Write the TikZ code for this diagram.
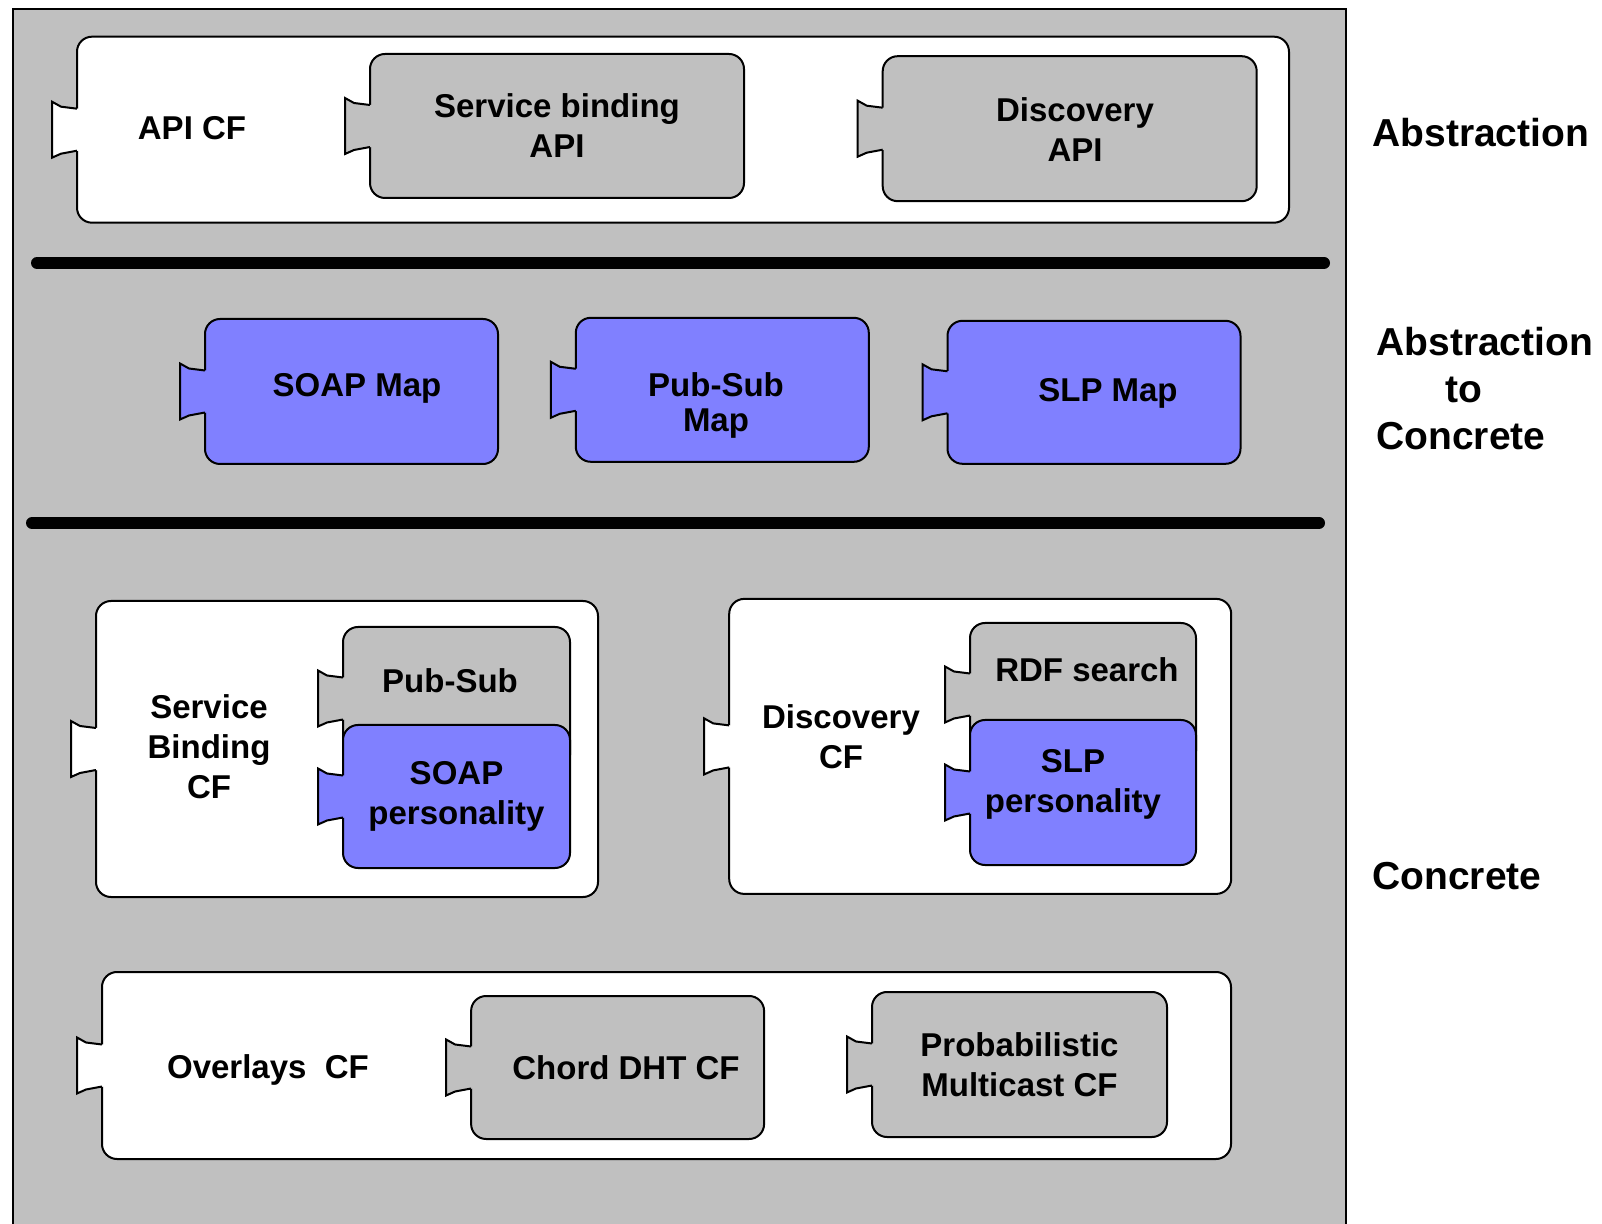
\documentclass[tikz,border=0pt]{standalone}
\usepackage{fontspec}
\setmainfont{Liberation Sans}
\usetikzlibrary{calc}

\definecolor{panel}{HTML}{C0C0C0}
\definecolor{persona}{HTML}{8080FF}
\tikzset{
  edge/.style={draw=black, line width=1pt},
  cf/.style={edge, rounded corners=7.5pt, outer sep=0pt, inner sep=0pt, fill=#1,
    font=\fontsize{16.5}{20}\selectfont\bfseries, align=center},
  cf/.default=white,
  tag/.style={font=\fontsize{16.5}{20}\selectfont\bfseries, align=center, inner sep=0pt},
  layer/.style={font=\fontsize{19.5}{23.5}\selectfont\bfseries, align=left, inner sep=0pt, anchor=west},
  sep/.style={line width=6pt, line cap=round},
}

% plug-in tab on the west side of a component node
\newcommand{\plug}[2]{%
  \fill[#2] ($(#1.west)+(2,-21)$) -- ($(#1.west)+(-16,-23)$) -- ($(#1.west)+(-25,-28)$)
    -- ($(#1.west)+(-25,28)$) -- ($(#1.west)+(-16,24)$) -- ($(#1.west)+(2,21)$) -- cycle;
  \draw[edge] ($(#1.west)+(0,-21)$) -- ($(#1.west)+(-16,-23)$) -- ($(#1.west)+(-25,-28)$)
    -- ($(#1.west)+(-25,28)$) -- ($(#1.west)+(-16,24)$) -- ($(#1.west)+(0,21)$);
}

\begin{document}
\begin{tikzpicture}[x=0.5pt, y=-0.5pt]
  \useasboundingbox (0,0) rectangle (1602,1224);
  % grey backdrop, open at the bottom
  \fill[panel] (12.5,9) rectangle (1346,1224);
  \draw[edge] (12.5,1224) -- (12.5,9) -- (1346,9) -- (1346,1224);

  % abstraction
  \node[cf, minimum width=606pt, minimum height=93pt] (apicf) at (683,129.7) {};
  \plug{apicf}{white}
  \node[tag] (apicf-l) at (192,128) {API CF};
  \node[cf=panel, minimum width=187pt, minimum height=72pt] (sbapi) at (557,126) {Service binding\\API};
  \plug{sbapi}{panel}
  \node[cf=panel, minimum width=187pt, minimum height=72.5pt] (discapi) at (1069.7,128.7) {};
  \plug{discapi}{panel}
  \node[tag] (discapi-l) at (1075,130) {Discovery\\API};

  \draw[sep] (37,263) -- (1324,263);

  % abstraction to concrete
  \node[cf=persona, minimum width=146.5pt, minimum height=72.5pt] (soapmap) at (351.5,391.5) {};
  \plug{soapmap}{persona}
  \node[tag] (soapmap-l) at (357,388) {SOAP Map};
  \node[cf=persona, minimum width=146.5pt, minimum height=72pt] (pubsubmap) at (722.3,389.8) {};
  \plug{pubsubmap}{persona}
  \node[tag, font=\fontsize{16.5}{17.5}\selectfont\bfseries] (pubsubmap-l) at (716,405) {Pub-Sub\\Map};
  \node[cf=persona, minimum width=146.5pt, minimum height=71.5pt] (slpmap) at (1094,392.3) {};
  \plug{slpmap}{persona}
  \node[tag] (slpmap-l) at (1108,393) {SLP Map};

  \draw[sep] (32,523) -- (1319,523);

  % concrete
  \node[cf, minimum width=251pt, minimum height=148pt] (sbcf) at (347,749) {};
  \plug{sbcf}{white}
  \node[tag] (sbcf-l) at (209,747) {Service\\Binding\\CF};
  \node[cf=panel, minimum width=113.5pt, minimum height=71.5pt] (pubsub) at (456.5,698.5) {};
  \plug{pubsub}{panel}
  \node[tag] (pubsub-l) at (450,681) {Pub-Sub};
  \node[cf=persona, minimum width=113.5pt, minimum height=71.5pt] (soappers) at (456.5,796.5) {SOAP\\personality};
  \plug{soappers}{persona}

  \node[cf, minimum width=251pt, minimum height=147.5pt] (disccf) at (980.2,746.4) {};
  \plug{disccf}{white}
  \node[tag] (disccf-l) at (841,737) {Discovery\\CF};
  \node[cf=panel, minimum width=113pt, minimum height=71.5pt] (rdf) at (1083,694.5) {};
  \plug{rdf}{panel}
  \node[tag] (rdf-l) at (1087,670) {RDF search};
  \node[cf=persona, minimum width=113pt, minimum height=72.5pt] (slppers) at (1083,792.5) {};
  \plug{slppers}{persona}
  \node[tag] (slppers-l) at (1073,784) {SLP\\personality};

  \node[cf, minimum width=564.5pt, minimum height=93.5pt] (overlays) at (666.5,1065.5) {};
  \plug{overlays}{white}
  \node[tag] (overlays-l) at (268,1070) {Overlays\ \ CF};
  \node[cf=panel, minimum width=146.5pt, minimum height=71.5pt] (chord) at (617.6,1067.5) {};
  \plug{chord}{panel}
  \node[tag] (chord-l) at (626,1068) {Chord DHT CF};
  \node[cf=panel, minimum width=147.5pt, minimum height=72.5pt] (prob) at (1019.5,1064.5) {Probabilistic\\Multicast CF};
  \plug{prob}{panel}

  % layer names
  \node[layer] (abs) at (1372,133) {Abstraction};
  \node[layer] (a2c) at (1376,389) {Abstraction\\\hspace*{34.5pt}to\\Concrete};
  \node[layer] (con) at (1372,876) {Concrete};
\end{tikzpicture}
\end{document}
